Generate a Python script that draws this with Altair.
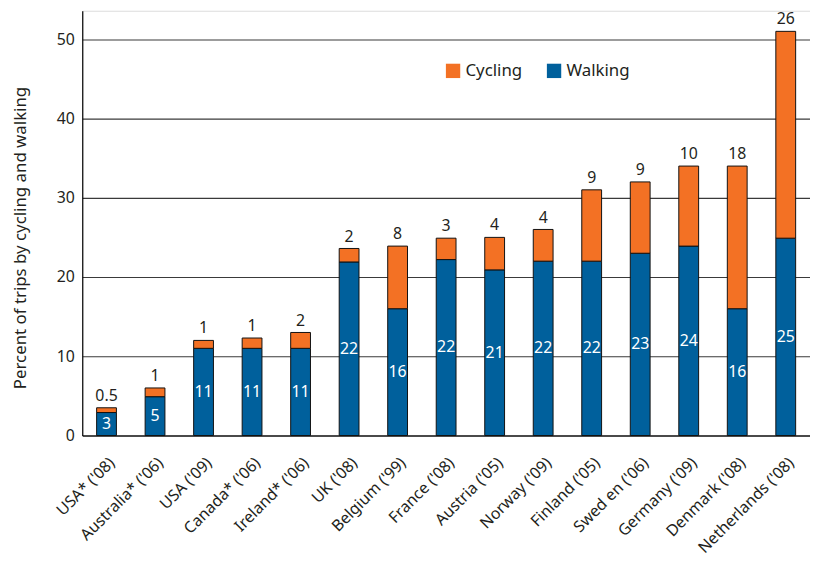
import altair as alt
import pandas as pd

countries = ["USA* ('08)", "Australia* ('06)", "USA ('09)", "Canada* ('06)", "Ireland* ('06)",
             "UK ('08)", "Belgium ('99)", "France ('08)", "Austria ('05)", "Norway ('09)",
             "Finland ('05)", "Swed en ('06)", "Germany ('09)", "Denmark ('08)", "Netherlands ('08)"]
walking = [2.9, 4.9, 11, 11, 11, 21.9, 16, 22.2, 20.9, 22, 22, 23, 23.9, 16, 24.9]
cycling = [0.6, 1.1, 1, 1.3, 2, 1.7, 7.9, 2.7, 4.1, 4, 9, 9, 10.1, 18, 26.1]
walking_labels = ["3", "5", "11", "11", "11", "22", "16", "22", "21", "22", "22", "23", "24", "16", "25"]
cycling_labels = ["0.5", "1", "1", "1", "2", "2", "8", "3", "4", "4", "9", "9", "10", "18", "26"]

FONT = "Noto Sans"
TXT = "#231f20"
ORANGE = "#f37124"
BLUE = "#00609c"

wide = pd.DataFrame({
    "country": countries,
    "walking": walking,
    "cycling": cycling,
    "wl": walking_labels,
    "cl": cycling_labels,
})

long = pd.concat([
    pd.DataFrame({"country": countries, "mode": "Walking", "value": walking, "ord": 0}),
    pd.DataFrame({"country": countries, "mode": "Cycling", "value": cycling, "ord": 1}),
])

xenc = alt.X("country:N", sort=countries, title=None,
             scale=alt.Scale(paddingInner=0, paddingOuter=0),
             axis=alt.Axis(labelAngle=-45, labelFontSize=16, labelFont=FONT, labelColor=TXT,
                           ticks=False, domainColor="#000", domainWidth=1.2,
                           labelPadding=19))

yscale = alt.Scale(domain=[0, 53.6], nice=False)

bars = alt.Chart(long).mark_bar(size=20, stroke="#111", strokeWidth=1).encode(
    x=xenc,
    y=alt.Y("value:Q", stack="zero", scale=yscale,
            title="Percent of trips by cycling and walking",
            axis=alt.Axis(values=[0, 10, 20, 30, 40, 50], grid=True, gridColor="#3a3a3a",
                          gridWidth=1.1, ticks=False, labelPadding=8, labelFontSize=16,
                          labelFont=FONT, labelColor=TXT, domainColor="#000", domainWidth=1.2,
                          titleFont=FONT, titleFontSize=17, titleFontWeight="normal",
                          titleColor=TXT, titlePadding=27, titleY=229)),
    color=alt.Color("mode:N", scale=alt.Scale(domain=["Cycling", "Walking"], range=[ORANGE, BLUE]),
                    legend=alt.Legend(title=None, orient="none", legendX=366, legendY=52,
                                      direction="horizontal", symbolType="square",
                                      symbolSize=210, symbolStrokeWidth=0, labelFontSize=17,
                                      labelFont=FONT, labelColor=TXT, columnPadding=23,
                                      symbolOpacity=1)),
    order=alt.Order("ord:Q"),
)

wtext = alt.Chart(wide).transform_calculate(mid="datum.walking / 2").mark_text(
    color="white", fontSize=16, font=FONT, baseline="middle"
).encode(x=alt.X("country:N", sort=countries), y=alt.Y("mid:Q", scale=yscale), text="wl:N")

ctext = alt.Chart(wide).transform_calculate(top="datum.walking + datum.cycling").mark_text(
    color=TXT, fontSize=16, font=FONT, baseline="bottom", dy=-4
).encode(x=alt.X("country:N", sort=countries), y=alt.Y("top:Q", scale=yscale), text="cl:N")

chart = alt.layer(bars, wtext, ctext).properties(
    width=735, height=429,
    autosize=alt.AutoSizeParams(type="none"),
    padding={"left": 75, "top": 0, "right": 0, "bottom": 126},
).configure_view(stroke=None).configure(background="white")

chart.save("out.html", embed_options={"renderer": "svg", "actions": False})
